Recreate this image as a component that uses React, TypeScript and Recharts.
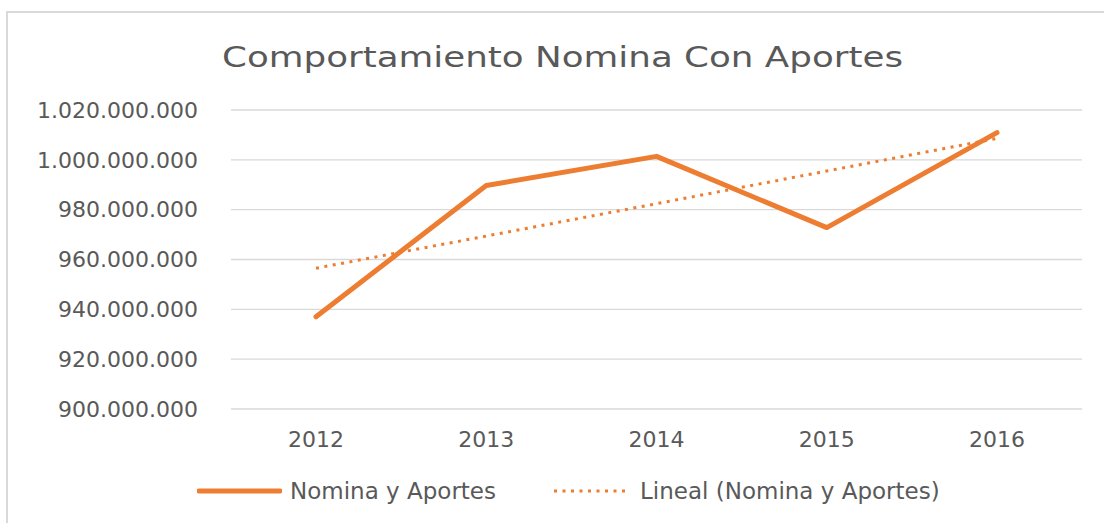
import React from 'react';
import { LineChart, Line, XAxis, YAxis, CartesianGrid, Legend } from 'recharts';

const years = ['2012', '2013', '2014', '2015', '2016'];
const nominaYAportes = [937000000, 989700000, 1001400000, 972800000, 1010900000];
const lineal = [956500000, 969400000, 982400000, 995500000, 1008600000];
const yTicks = [900000000, 920000000, 940000000, 960000000, 980000000, 1000000000, 1020000000];

const data = years.map((y, i) => ({ year: y, nomina: nominaYAportes[i], lineal: lineal[i] }));

const ORANGE = '#ED7D31';
const TEXT = '#595959';
const GRID = '#D9D9D9';
const FONT = '"DejaVu Sans", sans-serif';

const fmt = (n: number) => String(n).replace(/\B(?=(\d{3})+(?!\d))/g, '.');

const LegendContent = () => (
  <div style={{ display: 'flex', alignItems: 'center', height: 64, paddingLeft: 197, fontFamily: FONT, fontSize: 23, color: TEXT }}>
    <svg width={85} height={10} style={{ display: 'block' }}>
      <line x1={2} y1={5} x2={83} y2={5} stroke={ORANGE} strokeWidth={5} strokeLinecap="round" />
    </svg>
    <span style={{ marginLeft: 8 }}>Nomina y Aportes</span>
    <svg width={74} height={10} style={{ display: 'block', marginLeft: 56 }}>
      <line x1={2} y1={5} x2={74} y2={5} stroke={ORANGE} strokeWidth={3} strokeDasharray="3 5.5" />
    </svg>
    <span style={{ marginLeft: 14 }}>Lineal (Nomina y Aportes)</span>
  </div>
);

export default function App() {
  return (
    <div style={{ position: 'absolute', left: 0, top: 0, width: 1104, height: 523, overflow: 'hidden', background: '#fff' }}>
      <div style={{ position: 'absolute', left: 6, top: 11, width: 1200, height: 600, border: `2px solid ${GRID}` }} />
      <svg width={1104} height={100} style={{ position: 'absolute', left: 0, top: 0 }}>
        <text
          x={562.5}
          y={67}
          textAnchor="middle"
          fontFamily={FONT}
          fontSize={28}
          fill={TEXT}
          transform="translate(562.5,0) scale(1.275,1) translate(-562.5,0)"
        >
          Comportamiento Nomina Con Aportes
        </text>
      </svg>
      <div style={{ position: 'absolute', left: 0, top: 0 }}>
        <LineChart width={1104} height={523} data={data} margin={{ top: 110, right: 22, bottom: 0, left: 0 }}>
          <CartesianGrid vertical={false} stroke={GRID} strokeWidth={1.3} />
          <XAxis
            dataKey="year"
            height={50}
            axisLine={false}
            tickLine={false}
            tickMargin={16}
            padding={{ left: 85, right: 85 }}
            tick={{ fill: TEXT, fontSize: 22, fontFamily: FONT }}
            interval={0}
          />
          <YAxis
            width={231}
            domain={[900000000, 1020000000]}
            ticks={yTicks}
            axisLine={false}
            tickLine={false}
            tickMargin={27}
            tickFormatter={fmt}
            tick={{ fill: TEXT, fontSize: 22, fontFamily: FONT }}
          />
          <Legend verticalAlign="bottom" height={64} content={<LegendContent />} />
          <Line
            dataKey="nomina"
            name="Nomina y Aportes"
            stroke={ORANGE}
            strokeWidth={5}
            strokeLinecap="round"
            strokeLinejoin="round"
            dot={false}
            activeDot={false}
            type="linear"
            isAnimationActive={false}
          />
          <Line
            dataKey="lineal"
            name="Lineal (Nomina y Aportes)"
            stroke={ORANGE}
            strokeWidth={3}
            strokeDasharray="3 5.5"
            dot={false}
            activeDot={false}
            type="linear"
            isAnimationActive={false}
          />
        </LineChart>
      </div>
    </div>
  );
}
